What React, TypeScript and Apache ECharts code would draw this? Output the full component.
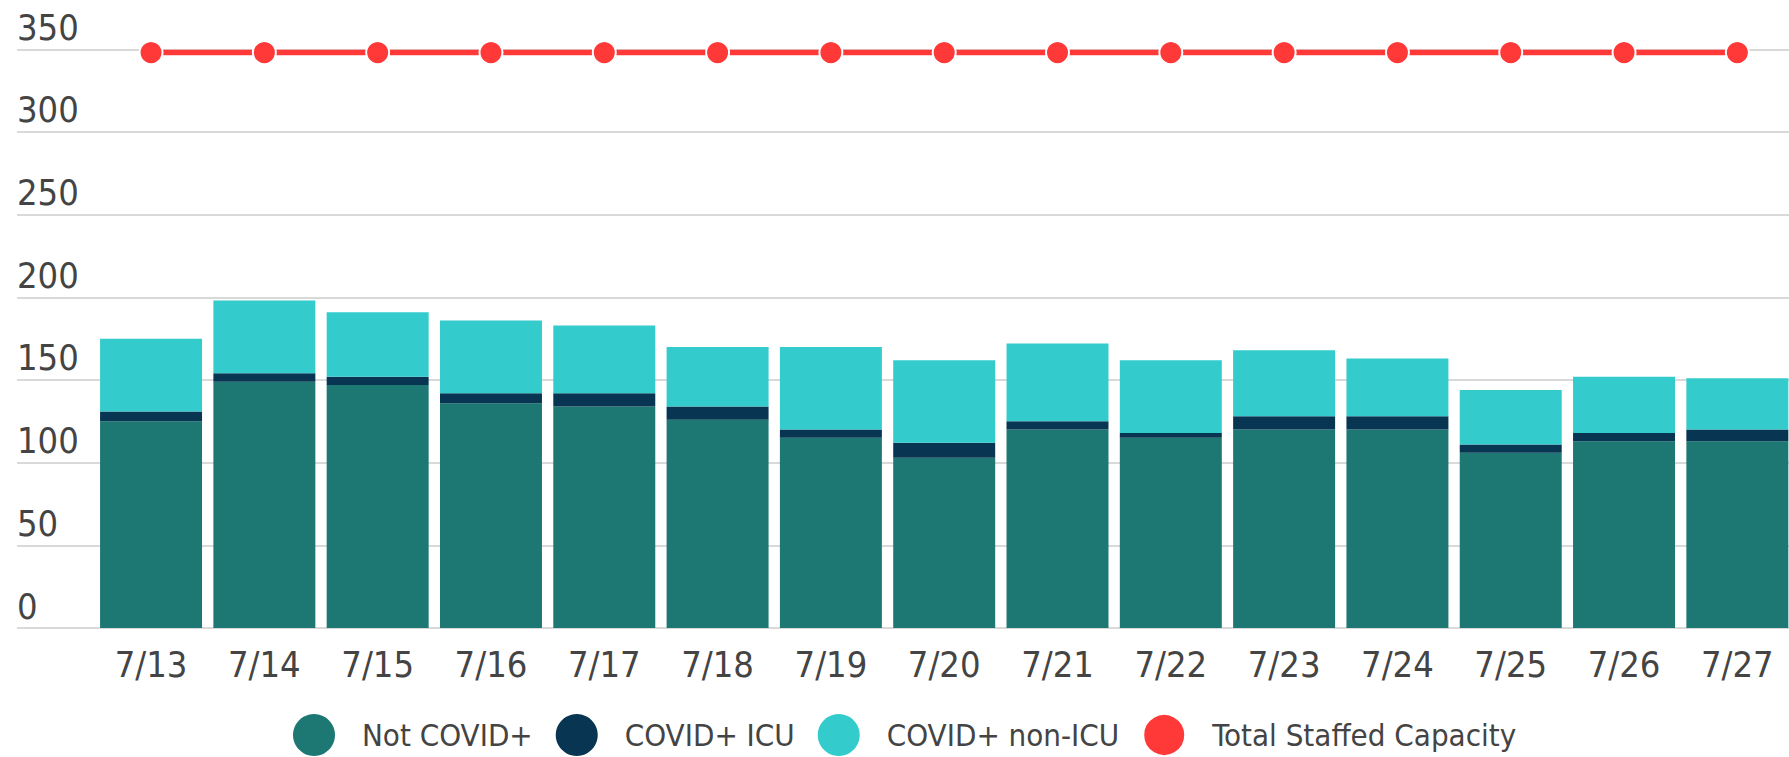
import React, { useEffect, useRef } from "react";
import * as echarts from "echarts";

const categories = ["7/13","7/14","7/15","7/16","7/17","7/18","7/19","7/20","7/21","7/22","7/23","7/24","7/25","7/26","7/27"];
const notCovid = [125, 149, 147, 136, 134, 126, 115, 103, 120, 115, 120, 120, 106, 113, 113];
const covidIcu = [6, 5, 5, 6, 8, 8, 5, 9, 5, 3, 8, 8, 5, 5, 7];
const covidNonIcu = [44, 44, 39, 44, 41, 36, 50, 50, 47, 44, 40, 35, 33, 34, 31];
const capacity = [348, 348, 348, 348, 348, 348, 348, 348, 348, 348, 348, 348, 348, 348, 348];
const yTicks = { min: 0, max: 350, interval: 50 };

const FONT = "'Liberation Sans Narrow', 'DejaVu Sans Condensed', sans-serif";
const TXT = "#444444";

export default function App() {
  const ref = useRef<HTMLDivElement>(null);
  useEffect(() => {
    if (!ref.current) return;
    const chart = echarts.init(ref.current, undefined, { renderer: "svg" });
    const gridTop = 49.3;
    const gridBottom = 129;
    chart.setOption({
      animation: false,
      textStyle: { fontFamily: FONT },
      grid: [
        { left: 94.4, right: 0, top: gridTop, bottom: gridBottom },
        { left: 17, right: 5, top: gridTop, bottom: gridBottom },
      ],
      xAxis: [
        {
          type: "category",
          gridIndex: 0,
          data: categories,
          axisLine: { show: false },
          axisTick: { show: false },
          axisLabel: { color: TXT, fontSize: 36, fontFamily: FONT, margin: 18, lineHeight: 36 },
        },
        { type: "value", gridIndex: 1, min: 0, max: 1, show: false },
      ],
      yAxis: [
        { type: "value", gridIndex: 0, min: yTicks.min, max: yTicks.max, interval: yTicks.interval, show: false },
        {
          type: "value",
          gridIndex: 1,
          min: yTicks.min,
          max: yTicks.max,
          interval: yTicks.interval,
          axisLine: { show: false },
          axisTick: { show: false },
          splitLine: { show: true, lineStyle: { color: "#d9d9d9", width: 2 } },
          axisLabel: {
            inside: true,
            margin: 0,
            align: "left",
            verticalAlign: "bottom",
            color: TXT,
            fontSize: 36,
            lineHeight: 36,
            fontFamily: FONT,
            padding: [0, 0, 4, 0],
          },
        },
      ],
      legend: {
        left: 293,
        top: 713,
        padding: 0,
        icon: "circle",
        itemWidth: 42,
        itemHeight: 42,
        itemGap: 23,
        textStyle: { color: TXT, fontSize: 31, lineHeight: 34, fontFamily: FONT, padding: [0, 0, 0, 22] },
        data: ["Not COVID+", "COVID+ ICU", "COVID+ non-ICU", "Total Staffed Capacity"],
      },
      series: [
        { name: "Not COVID+", type: "bar", stack: "s", barCategoryGap: "10%", data: notCovid, itemStyle: { color: "#1d7874" } },
        { name: "COVID+ ICU", type: "bar", stack: "s", data: covidIcu, itemStyle: { color: "#073552" } },
        { name: "COVID+ non-ICU", type: "bar", stack: "s", data: covidNonIcu, itemStyle: { color: "#34cbcc" } },
        {
          name: "Total Staffed Capacity",
          type: "line",
          data: capacity,
          symbol: "circle",
          symbolSize: 23,
          z: 5,
          lineStyle: { color: "#ff3838", width: 5.5 },
          itemStyle: { color: "#ff3838", borderColor: "#ffffff", borderWidth: 2 },
        },
      ],
    });
    return () => chart.dispose();
  }, []);
  return (
    <div style={{ position: "absolute", left: 0, top: 0, width: 1789, height: 757, overflow: "hidden" }}>
      <div ref={ref} style={{ width: 1794, height: 757 }} />
    </div>
  );
}
